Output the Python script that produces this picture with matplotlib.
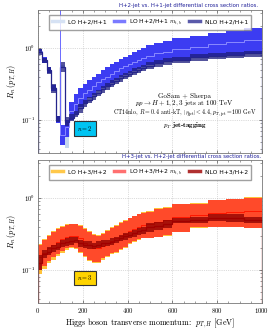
import numpy as np
import matplotlib
matplotlib.use("Agg")
import matplotlib.pyplot as plt
from matplotlib.lines import Line2D

plt.rcParams["mathtext.fontset"] = "cm"
plt.rcParams["font.family"] = "serif"
plt.rcParams["font.serif"] = ["cmr10"]
plt.rcParams["axes.unicode_minus"] = False
plt.rcParams["axes.formatter.use_mathtext"] = True

# bin edges in p_T,H [GeV]
edges = [0, 20, 40, 60, 80, 100, 120, 140, 160, 180, 200, 220, 240, 260, 280,
         300, 320, 340, 360, 380, 400, 420, 440, 460, 480, 520, 560, 600, 680,
         760, 840, 920, 1000]

# ---- n = 2 : H+2 / H+1 ----
lo2 = [0.90, 0.68, 0.50, 0.29, 0.105, 0.55, 0.06, 0.115, 0.135, 0.16, 0.185,
       0.21, 0.235, 0.26, 0.29, 0.32, 0.35, 0.38, 0.41, 0.44, 0.47, 0.50,
       0.53, 0.56, 0.61, 0.66, 0.70, 0.75, 0.80, 0.84, 0.87, 0.90]
lo2_dn = [0.86, 0.65, 0.47, 0.27, 0.098, 0.52, 0.041, 0.11, 0.128, 0.152, 0.176,
          0.2, 0.224, 0.248, 0.276, 0.305, 0.333, 0.362, 0.39, 0.42, 0.448, 0.476,
          0.505, 0.533, 0.58, 0.63, 0.665, 0.715, 0.76, 0.8, 0.83, 0.86]
lo2_up = [0.94, 0.71, 0.53, 0.31, 0.112, 0.58, 0.08, 0.12, 0.142, 0.168, 0.194,
          0.22, 0.246, 0.272, 0.304, 0.335, 0.367, 0.398, 0.43, 0.46, 0.492, 0.524,
          0.555, 0.587, 0.64, 0.69, 0.735, 0.785, 0.84, 0.88, 0.91, 0.94]

lomt2 = [0.90, 0.68, 0.50, 0.28, 0.10, 0.062, 0.08, 0.135, 0.165, 0.20, 0.235,
         0.265, 0.30, 0.335, 0.37, 0.40, 0.44, 0.48, 0.52, 0.56, 0.60, 0.64,
         0.68, 0.72, 0.78, 0.84, 0.89, 0.96, 1.04, 1.12, 1.20, 1.28]
lomt2_dn = [0.84, 0.62, 0.45, 0.25, 0.09, 0.045, 0.058, 0.10, 0.12, 0.15, 0.175,
            0.20, 0.225, 0.25, 0.28, 0.30, 0.33, 0.36, 0.39, 0.42, 0.45, 0.48,
            0.51, 0.54, 0.58, 0.62, 0.65, 0.69, 0.73, 0.76, 0.79, 0.82]
lomt2_up = [0.97, 0.74, 0.55, 0.31, 0.115, 0.085, 0.10, 0.18, 0.227, 0.28, 0.32,
            0.36, 0.40, 0.44, 0.49, 0.54, 0.59, 0.64, 0.70, 0.75, 0.81, 0.87,
            0.93, 0.99, 1.08, 1.17, 1.25, 1.36, 1.48, 1.60, 1.74, 1.90]

nlo2 = [0.89, 0.67, 0.49, 0.28, 0.10, 0.55, 0.095, 0.108, 0.122, 0.145, 0.17,
        0.19, 0.215, 0.24, 0.27, 0.295, 0.32, 0.35, 0.38, 0.41, 0.44, 0.47,
        0.50, 0.53, 0.57, 0.61, 0.65, 0.69, 0.74, 0.78, 0.81, 0.84]
nlo2_dn = [0.80, 0.61, 0.43, 0.24, 0.093, 0.47, 0.083, 0.098, 0.11, 0.127, 0.15,
           0.17, 0.19, 0.215, 0.24, 0.265, 0.29, 0.315, 0.34, 0.37, 0.395, 0.42,
           0.45, 0.475, 0.51, 0.55, 0.585, 0.62, 0.665, 0.70, 0.73, 0.76]
nlo2_up = [0.97, 0.73, 0.55, 0.32, 0.114, 0.63, 0.109, 0.12, 0.135, 0.166, 0.19,
           0.21, 0.24, 0.265, 0.30, 0.325, 0.355, 0.385, 0.42, 0.45, 0.485, 0.52,
           0.55, 0.585, 0.63, 0.67, 0.715, 0.76, 0.815, 0.86, 0.89, 0.92]

# off-scale LO m_t,b bin
spike_x = [100]
spike_lo = [0.085]
spike_hi = [10.0]

# ---- n = 3 : H+3 / H+2 ----
lo3 = [0.13, 0.15, 0.17, 0.19, 0.20, 0.215, 0.225, 0.235, 0.24, 0.225, 0.21,
       0.20, 0.195, 0.20, 0.215, 0.23, 0.25, 0.27, 0.29, 0.31, 0.34, 0.36,
       0.39, 0.41, 0.44, 0.47, 0.50, 0.56, 0.58, 0.60, 0.63, 0.70]
lo3_dn = [0.088, 0.105, 0.125, 0.14, 0.158, 0.175, 0.19, 0.20, 0.198, 0.175,
          0.15, 0.135, 0.125, 0.127, 0.14, 0.15, 0.165, 0.175, 0.19, 0.205,
          0.23, 0.245, 0.265, 0.275, 0.275, 0.285, 0.30, 0.335, 0.385, 0.395,
          0.395, 0.40]
lo3_up = [0.23, 0.27, 0.31, 0.35, 0.38, 0.41, 0.43, 0.44, 0.44, 0.42, 0.38,
          0.35, 0.32, 0.31, 0.33, 0.36, 0.39, 0.42, 0.46, 0.49, 0.53, 0.57,
          0.60, 0.63, 0.66, 0.72, 0.75, 0.83, 0.85, 0.95, 0.98, 1.02]

lomt3 = [0.15, 0.175, 0.20, 0.225, 0.245, 0.27, 0.29, 0.30, 0.30, 0.275, 0.24,
         0.22, 0.20, 0.20, 0.215, 0.235, 0.255, 0.275, 0.30, 0.32, 0.35, 0.375,
         0.40, 0.42, 0.43, 0.46, 0.49, 0.55, 0.58, 0.62, 0.64, 0.66]
lomt3_dn = [0.10, 0.115, 0.135, 0.15, 0.165, 0.185, 0.20, 0.21, 0.205, 0.18,
            0.155, 0.14, 0.128, 0.13, 0.145, 0.155, 0.17, 0.18, 0.195, 0.21,
            0.235, 0.25, 0.27, 0.28, 0.28, 0.29, 0.305, 0.34, 0.39, 0.40, 0.40,
            0.38]
lomt3_up = [0.22, 0.26, 0.30, 0.34, 0.37, 0.40, 0.42, 0.43, 0.43, 0.41, 0.37,
            0.34, 0.31, 0.30, 0.32, 0.35, 0.38, 0.41, 0.45, 0.48, 0.52, 0.56,
            0.59, 0.62, 0.645, 0.70, 0.73, 0.82, 0.83, 0.94, 0.97, 0.99]

nlo3 = [0.125, 0.165, 0.18, 0.20, 0.21, 0.235, 0.245, 0.255, 0.26, 0.235,
        0.225, 0.22, 0.215, 0.225, 0.235, 0.24, 0.245, 0.26, 0.28, 0.295,
        0.305, 0.325, 0.345, 0.36, 0.39, 0.41, 0.44, 0.485, 0.495, 0.53, 0.53,
        0.49]
nlo3_dn = [0.10, 0.145, 0.162, 0.18, 0.19, 0.21, 0.215, 0.22, 0.235, 0.21,
           0.20, 0.195, 0.195, 0.20, 0.21, 0.215, 0.22, 0.235, 0.25, 0.26,
           0.275, 0.29, 0.31, 0.32, 0.34, 0.36, 0.38, 0.445, 0.445, 0.48, 0.47,
           0.445]
nlo3_up = [0.16, 0.19, 0.206, 0.222, 0.235, 0.26, 0.275, 0.29, 0.29, 0.26,
           0.25, 0.25, 0.24, 0.25, 0.26, 0.265, 0.275, 0.29, 0.31, 0.33, 0.34,
           0.36, 0.38, 0.40, 0.445, 0.47, 0.50, 0.53, 0.55, 0.59, 0.59, 0.54]

fig = plt.figure(figsize=(2.72, 3.33), dpi=100)
ax1 = fig.add_axes([0.1397, 0.5405, 0.8235, 0.4295])
ax2 = fig.add_axes([0.1397, 0.0901, 0.8235, 0.4294])

SANS = "DejaVu Sans"


def draw_panel(ax, lo, lo_dn, lo_up, mt, mt_dn, mt_up, nlo, nlo_dn, nlo_up, cols):
    ax.stairs(lo_up, edges, baseline=lo_dn, fill=True, color=cols[0], lw=0)
    ax.stairs(lo, edges, color=cols[3], lw=0.7)
    ax.stairs(mt_up, edges, baseline=mt_dn, fill=True, color=cols[1], lw=0)
    ax.stairs(mt, edges, color=cols[4], lw=0.7)
    ax.stairs(nlo_up, edges, baseline=nlo_dn, fill=True, color=cols[2], alpha=0.75, lw=0)
    ax.stairs(nlo, edges, color=cols[5], lw=0.9)


draw_panel(ax1, lo2, lo2_dn, lo2_up, lomt2, lomt2_dn, lomt2_up, nlo2, nlo2_dn, nlo2_up,
           ["#c4d6ee", "#3c3cf2", "#1c1c7c", "#dfe8f6", "#8a8aff", "#24248a"])
ax1.vlines(spike_x, spike_lo, spike_hi, color="#6a6aff", lw=0.7)

draw_panel(ax2, lo3, lo3_dn, lo3_up, lomt3, lomt3_dn, lomt3_up, nlo3, nlo3_dn, nlo3_up,
           ["#ffc23a", "#ff4a2a", "#8a0000", "#ff9a00", "#ff1800", "#a00000"])

for ax in (ax1, ax2):
    ax.set_yscale("log")
    ax.set_xlim(0, 1000)
    ax.set_ylim(0.035, 3.35)
    ax.set_xticks([0, 200, 400, 600, 800, 1000])
    ax.set_xticks(np.arange(0, 1001, 50), minor=True)
    ax.tick_params(which="both", direction="in", top=True, right=True,
                   labelsize=4.8, color="#555555", pad=2)
    ax.tick_params(which="major", length=2.5, width=0.5)
    ax.tick_params(which="minor", length=1.4, width=0.4)
    ax.grid(True, which="major", ls=":", lw=0.5, color="#bbbbbb")
    ax.set_axisbelow(True)
    for s in ax.spines.values():
        s.set_color("#777777")
        s.set_linewidth(0.6)
    ax.set_ylabel(r"$R_n\,(p_{T,H})$", fontsize=6, labelpad=1)

ax1.tick_params(labelbottom=False)
ax2.set_xlabel(r"Higgs boson transverse momentum:  $p_{T,H}$ [GeV]", fontsize=5.8, labelpad=1)

h1 = [Line2D([], [], color="#d6e2f4", lw=2.5),
      Line2D([], [], color="#7a7aff", lw=2.5),
      Line2D([], [], color="#5a5aaa", lw=2.5)]
ax1.legend(h1, ["LO H+2/H+1", r"LO H+2/H+1 $m_{t,b}$", "NLO H+2/H+1"],
           loc="upper left", bbox_to_anchor=(0.036, 0.986, 0.928, 0.0), mode="expand",
           ncol=3, prop={"family": SANS, "size": 4.3}, handlelength=1.8,
           frameon=True, fancybox=False, edgecolor="#888888", borderpad=0.5)

h2 = [Line2D([], [], color="#ffc84a", lw=2.5),
      Line2D([], [], color="#ff7070", lw=2.5),
      Line2D([], [], color="#b03030", lw=2.5)]
ax2.legend(h2, ["LO H+3/H+2", r"LO H+3/H+2 $m_{t,b}$", "NLO H+3/H+2"],
           loc="upper left", bbox_to_anchor=(0.036, 0.986, 0.928, 0.0), mode="expand",
           ncol=3, prop={"family": SANS, "size": 4.3}, handlelength=1.8,
           frameon=True, fancybox=False, edgecolor="#888888", borderpad=0.5)

fig.text(0.948, 1 - 6 / 333, "H+2-jet vs. H+1-jet differential cross section ratios.",
         ha="right", va="center", fontsize=3.9, color="#22229a", family=SANS)
fig.text(0.96, 1 - 156.5 / 333, "H+3-jet vs. H+2-jet differential cross section ratios.",
         ha="right", va="center", fontsize=3.9, color="#22229a", family=SANS)

tx = 0.655
ax1.text(tx, 0.40, "GoSam + Sherpa", transform=ax1.transAxes, ha="center", va="center", fontsize=5)
ax1.text(tx, 0.345, r"$pp \to H + 1,2,3$ jets at 100 TeV", transform=ax1.transAxes,
         ha="center", va="center", fontsize=5)
ax1.text(tx, 0.278, r"CT14nlo, $R = 0.4$ anti-kT, $|\eta_{\rm jet}| < 4.4$, $p_{T,\rm jet} = 100$ GeV",
         transform=ax1.transAxes, ha="center", va="center", fontsize=4.3)
ax1.text(tx, 0.19, r"$p_T$ jet-tagging", transform=ax1.transAxes, ha="center", va="center",
         fontsize=5, family="cmb10")

ax1.text(0.21, 0.171, r"$n = 2$", transform=ax1.transAxes, ha="center", va="center", fontsize=4.5,
         bbox=dict(boxstyle="square,pad=0.45", fc="#00c4f2", ec="#333333", lw=0.8))
ax2.text(0.21, 0.175, r"$n = 3$", transform=ax2.transAxes, ha="center", va="center", fontsize=4.5,
         bbox=dict(boxstyle="square,pad=0.45", fc="#ffd400", ec="#333333", lw=0.8))

fig.savefig("out.png", dpi=100)
